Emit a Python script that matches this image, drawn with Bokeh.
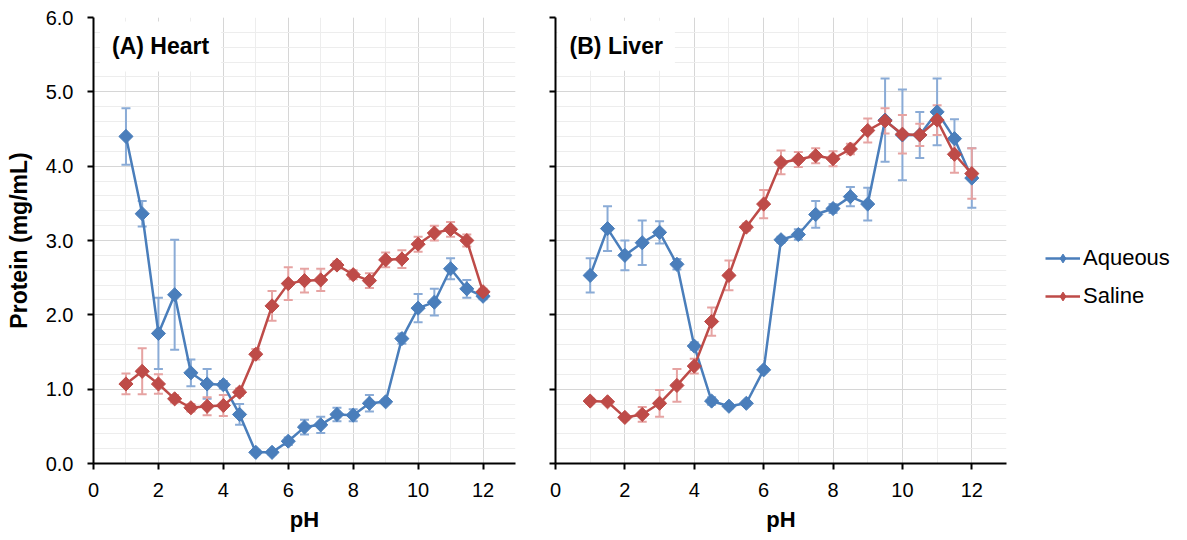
from bokeh.plotting import figure
from bokeh.models import (Range1d, SingleIntervalTicker, Whisker, TeeHead, ColumnDataSource,
                          Legend, LegendItem, Label, NumeralTickFormatter, CustomJSTickFormatter)
from bokeh.layouts import row
from bokeh.embed import file_html
from bokeh.resources import INLINE
import numpy as np

ph = [1, 1.5, 2, 2.5, 3, 3.5, 4, 4.5, 5, 5.5, 6, 6.5, 7, 7.5, 8, 8.5, 9, 9.5, 10, 10.5, 11, 11.5, 12]

heart_aq = [4.40, 3.36, 1.75, 2.27, 1.22, 1.07, 1.06, 0.66, 0.15, 0.15, 0.30, 0.49, 0.52, 0.66, 0.65,
            0.81, 0.83, 1.68, 2.09, 2.17, 2.62, 2.35, 2.25]
heart_aq_err = [0.38, 0.17, 0.48, 0.74, 0.18, 0.20, 0.05, 0.14, 0.03, 0.03, 0.05, 0.10, 0.11, 0.09, 0.08,
                0.11, 0.03, 0.07, 0.19, 0.18, 0.14, 0.12, 0.04]
heart_sal = [1.07, 1.24, 1.07, 0.87, 0.75, 0.77, 0.78, 0.96, 1.47, 2.12, 2.42, 2.46, 2.47, 2.67, 2.54,
             2.46, 2.74, 2.75, 2.95, 3.10, 3.15, 3.00, 2.31]
heart_sal_err = [0.14, 0.31, 0.13, 0.05, 0.05, 0.12, 0.14, 0.05, 0.07, 0.20, 0.22, 0.16, 0.15, 0.05, 0.06,
                 0.10, 0.10, 0.12, 0.10, 0.10, 0.10, 0.08, 0.04]

liver_aq = [2.53, 3.16, 2.80, 2.97, 3.11, 2.68, 1.58, 0.84, 0.77, 0.81, 1.26, 3.01, 3.08, 3.35, 3.43,
            3.59, 3.49, 4.62, 4.42, 4.42, 4.73, 4.37, 3.84]
liver_aq_err = [0.23, 0.30, 0.20, 0.30, 0.15, 0.07, 0.05, 0.05, 0.03, 0.03, 0.03, 0.04, 0.07, 0.18, 0.06,
                0.13, 0.22, 0.56, 0.61, 0.31, 0.45, 0.26, 0.40]
liver_sal = [0.84, 0.83, 0.62, 0.66, 0.81, 1.05, 1.31, 1.91, 2.53, 3.18, 3.49, 4.05, 4.09, 4.14, 4.10,
             4.23, 4.48, 4.61, 4.43, 4.42, 4.62, 4.16, 3.90]
liver_sal_err = [0.03, 0.03, 0.03, 0.10, 0.18, 0.22, 0.10, 0.19, 0.20, 0.05, 0.19, 0.16, 0.10, 0.10, 0.10,
                 0.07, 0.16, 0.17, 0.26, 0.15, 0.20, 0.25, 0.34]

series_names = ["Aqueous", "Saline"]
panel_titles = ["(A) Heart", "(B) Liver"]

BLUE = "#4a7ebb"
RED = "#be4b48"
BLUE_ERR = "#8aabd6"
RED_ERR = "#e6a3a2"
FONT = "Liberation Sans"


def make_panel(aq, aq_err, sal, sal_err, title, tx, ty, show_y, mbl, mbr, fw, fh, mbt, mbb):
    p = figure(frame_width=fw, frame_height=fh, x_range=Range1d(0, 13), y_range=Range1d(0, 6),
               output_backend="svg", toolbar_location=None,
               min_border_left=mbl, min_border_right=mbr, min_border_top=mbt, min_border_bottom=mbb,
               background_fill_color="white", border_fill_color="white", outline_line_color=None)
    p.xaxis.ticker = SingleIntervalTicker(interval=2, num_minor_ticks=2)
    p.yaxis.ticker = SingleIntervalTicker(interval=1, num_minor_ticks=5)
    for g in (p.xgrid, p.ygrid):
        g.grid_line_color = "#d6d6d6"
        g.grid_line_width = 1
        g.minor_grid_line_color = "#ededed"
        g.minor_grid_line_width = 1
    for ax in (p.xaxis, p.yaxis):
        ax.axis_line_color = "black"
        ax.axis_line_width = 2
        ax.major_tick_line_color = "black"
        ax.major_tick_line_width = 2
        ax.major_tick_out = 6
        ax.major_tick_in = 0
        ax.minor_tick_line_color = None
        ax.major_label_text_font = FONT
        ax.major_label_text_font_size = "20px"
        ax.major_label_text_color = "black"
        ax.axis_label_text_font = FONT
        ax.axis_label_text_font_style = "bold"
        ax.axis_label_text_color = "black"
    p.xaxis.axis_label = "pH"
    p.xaxis.axis_label_text_font_size = "22px"
    p.xaxis.major_label_standoff = 13
    p.xaxis.axis_label_standoff = 7
    if show_y:
        p.yaxis.axis_label = "Protein (mg/mL)"
        p.yaxis.axis_label_text_font_size = "23px"
        p.yaxis.formatter = NumeralTickFormatter(format="0.0")
        p.yaxis.major_label_standoff = 14
        p.yaxis.axis_label_standoff = 11
    else:
        p.yaxis.formatter = CustomJSTickFormatter(code="return ''")
        p.yaxis.major_label_text_font_size = "0px"
        p.yaxis.major_label_standoff = 0

    legend_rends = []
    for vals, errs, col, ecol in ((aq, aq_err, BLUE, BLUE_ERR), (sal, sal_err, RED, RED_ERR)):
        v = np.array(vals)
        e = np.array(errs)
        src = ColumnDataSource(dict(x=ph, y=vals, upper=list(v + e), lower=list(v - e)))
        w = Whisker(source=src, base="x", upper="upper", lower="lower", dimension="height",
                    line_color=ecol, line_width=2,
                    upper_head=TeeHead(size=9, line_color=ecol, line_width=2),
                    lower_head=TeeHead(size=9, line_color=ecol, line_width=2))
        p.add_layout(w)
        lr = p.line("x", "y", source=src, line_color=col, line_width=2.5)
        # legend-only diamond glyph (zero size in the plot; the legend sizes it itself)
        dr = p.scatter("x", "y", source=src, marker="diamond", size=0,
                       fill_color=col, line_color=col, line_width=1)
        p.scatter("x", "y", source=src, marker="square", angle=np.pi / 4, size=10,
                  fill_color=col, line_color=col, line_width=1)
        legend_rends.append([lr, dr])

    lab = Label(x=tx, y=ty, text=title, text_font=FONT, text_font_size="23px",
                text_font_style="bold", text_color="black", text_align="left",
                text_baseline="middle", background_fill_color="white", padding=12)
    p.add_layout(lab)
    return p, legend_rends


pA, _ = make_panel(heart_aq, heart_aq_err, heart_sal, heart_sal_err, panel_titles[0], 0.2, 5.61,
                   True, 93, 10, 422, 446, 16, 60)
pB, rB = make_panel(liver_aq, liver_aq_err, liver_sal, liver_sal_err, panel_titles[1], 0.06, 5.62,
                    False, 30, 170, 451, 446, 17, 60)

legend = Legend(items=[LegendItem(label=series_names[0], renderers=rB[0]),
                       LegendItem(label=series_names[1], renderers=rB[1])],
                location=(39, 154), label_text_font=FONT, label_text_font_size="22px",
                label_text_color="black", glyph_width=35, glyph_height=22, spacing=12,
                label_standoff=3, border_line_color=None, background_fill_color="white",
                padding=0, margin=0)
pB.add_layout(legend, "right")

layout = row(pA, pB)
open("out.html", "w").write(file_html(layout, INLINE))
